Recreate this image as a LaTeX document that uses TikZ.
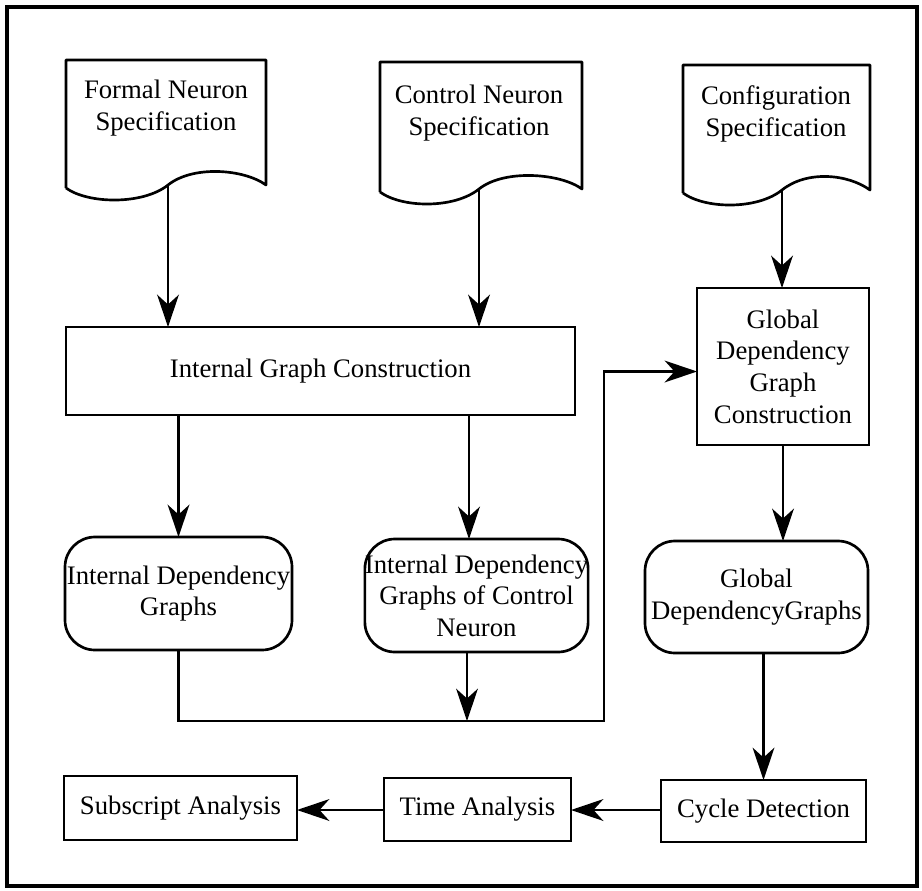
\documentclass[tikz,border=0pt]{standalone}
\usepackage{fontspec}
\setmainfont{Liberation Serif}
\usetikzlibrary{arrows.meta,calc}
\begin{document}
\begin{tikzpicture}[x=0.025cm,y=-0.025cm,
  line width=1.7pt,
  txt/.style={font=\fontsize{19}{22.5}\selectfont, align=center},
  box/.style={draw, line width=1.9pt, txt, inner sep=0pt, outer sep=0pt},
  sz/.style 2 args={minimum width={#1*0.025cm}, minimum height={#2*0.025cm}},
  rbox/.style={box, rounded corners=0.75cm},
  docbody/.style={draw, line width=1.9pt, line join=round},
  arr/.style={-{Stealth[length=23pt,width=15.5pt,inset=7pt]}}]
\useasboundingbox (0,0) rectangle (922,890);
\draw[line width=2.2pt] (7,7) rectangle (917,886);

% document symbols: left, top, right, bottom of the left edge, wave centre
\newcommand\docsym[5]{%
  \draw[docbody] (#1,#4) -- (#1,#2) -- (#3,#2) -- (#3,#4-3)
    .. controls (#3-22,#4-19) and (#5+25,#4-23) .. (#5,#4-3)
    .. controls (#5-25,#4+17) and (#1+22,#4+16) .. (#1,#4);}

\docsym{66}{60}{266}{188}{168}
\docsym{380}{62}{582}{192}{479}
\docsym{683}{65}{870}{193}{782}

\node[txt] (fn) at (166,108) {Formal Neuron\\Specification};
\node[txt] (cn) at (479,113) {Control Neuron\\Specification};
\node[txt] (cf) at (776,114) {Configuration\\Specification};
\coordinate (fnout) at (168,185);
\coordinate (cnout) at (479,189);
\coordinate (cfout) at (782,190);

% process boxes (centre, then width and height)
\node[box, sz={509}{88}] (igc) at (320.5,371) {Internal Graph Construction};
\node[box, sz={172}{157}] (gdgc) at (783,366.5) {Global\\Dependency\\Graph\\Construction};
\node[rbox, sz={227}{113}] (idg) at (178.5,593.5) {Internal Dependency\\Graphs};
\node[rbox, sz={223}{113}] (idgc) at (476.5,595.5) {Internal Dependency\\Graphs of Control\\Neuron};
\node[rbox, sz={223}{112}] (gdg) at (756.5,597) {Global\\DependencyGraphs};
\node[box, sz={233}{64}] (sa) at (180.5,808) {Subscript Analysis};
\node[box, sz={187}{63}] (ta) at (477.5,809.5) {Time Analysis};
\node[box, sz={205}{62}] (cd) at (763.5,811) {Cycle Detection};

% connectors
\draw[arr] (fnout) -- (fnout |- igc.north);
\draw[arr] (cnout) -- (cnout |- igc.north);
\draw[arr] (cfout) -- (cfout |- gdgc.north);
\draw[arr] (idg.north |- igc.south) -- (idg.north);
\coordinate (ictop) at (469,415);
\draw[arr] (ictop |- igc.south) -- (ictop |- idgc.north);
\draw[arr] (gdgc.south) -- (gdgc.south |- gdg.north);
\draw[arr] (cd.north |- gdg.south) -- (cd.north);
\coordinate (row) at (0,810);
\draw[arr] (cd.west |- row) -- (ta.east |- row);
\draw[arr] (ta.west |- row) -- (sa.east |- row);

\coordinate (bus) at (604,721);
\coordinate (icbot) at (467,652);
\draw[arr] (idg.south) |- (bus) |- ($(gdgc.west)+(0,5)$);
\draw[arr] (icbot |- idgc.south) -- (icbot |- bus);
\end{tikzpicture}
\end{document}
